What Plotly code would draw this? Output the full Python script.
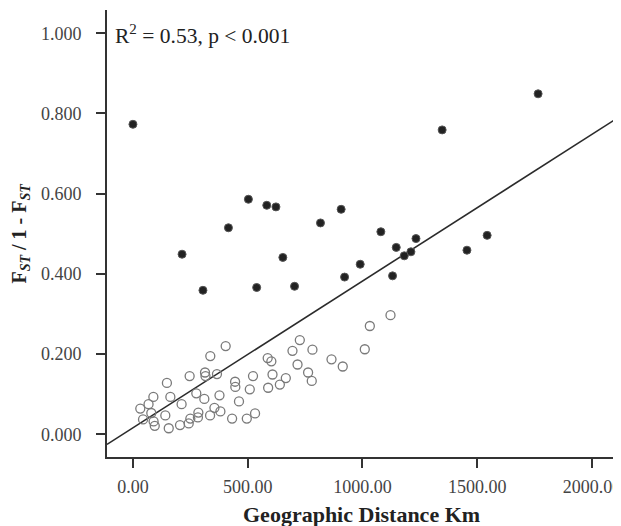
import plotly.graph_objects as go

# Filled (dark) points: geographic distance (km) vs FST/(1-FST)
filled_x = [0, 503, 583, 623, 416, 214, 653, 305, 539, 704, 817, 907, 1080, 1233,
            1147, 1182, 1211, 990, 922, 1131, 1455, 1765, 1347, 1543]
filled_y = [0.773, 0.586, 0.571, 0.567, 0.515, 0.449, 0.441, 0.359, 0.366, 0.369,
            0.527, 0.561, 0.505, 0.488, 0.466, 0.445, 0.455, 0.424, 0.392, 0.395,
            0.459, 0.849, 0.759, 0.496]

# Open (hollow) points
open_x = [32, 68, 89, 80, 44, 90, 95, 148, 163, 141, 156, 212, 205, 243, 247, 276,
          285, 250, 283, 311, 314, 316, 337, 366, 355, 336, 381, 377, 404, 432,
          445, 446, 462, 496, 509, 523, 532, 589, 587, 603, 608, 640, 666, 695,
          717, 727, 763, 779, 782, 865, 914, 1010, 1032, 1122]
open_y = [0.064, 0.075, 0.093, 0.053, 0.037, 0.032, 0.021, 0.128, 0.093, 0.047,
          0.015, 0.075, 0.023, 0.027, 0.145, 0.102, 0.054, 0.039, 0.042, 0.088,
          0.154, 0.145, 0.195, 0.150, 0.066, 0.047, 0.057, 0.097, 0.220, 0.039,
          0.131, 0.118, 0.082, 0.039, 0.112, 0.145, 0.052, 0.116, 0.190, 0.182,
          0.149, 0.124, 0.140, 0.208, 0.174, 0.235, 0.154, 0.133, 0.211, 0.187,
          0.169, 0.212, 0.270, 0.297]

# Fitted regression line coefficients
fit_intercept = 0.016
fit_slope = 0.000366

x_range = [-113, 2100]
y_range = [-0.0567, 1.058]
x_ticks = [0, 500, 1000, 1500, 2000]
x_ticklabels = ["0.00", "500.00", "1000.00", "1500.00", "2000.00"]
y_ticks = [0.0, 0.2, 0.4, 0.6, 0.8, 1.0]
y_ticklabels = ["0.000", "0.200", "0.400", "0.600", "0.800", "1.000"]

annotation_text = "R<sup>2</sup> = 0.53, p < 0.001"
x_title = "<b>Geographic Distance Km</b>"
y_title = "<b>F<sub><i>ST</i></sub> / 1 - F<sub><i>ST</i></sub></b>"

FONT = "Liberation Serif, Times New Roman, serif"
AX = "#333333"

fig = go.Figure()

line_x = list(x_range)
line_y = [fit_intercept + fit_slope * v for v in line_x]
fig.add_trace(go.Scatter(x=line_x, y=line_y, mode="lines",
                         line=dict(color="#2b2b2b", width=1.6),
                         showlegend=False, hoverinfo="skip"))

fig.add_trace(go.Scatter(x=open_x, y=open_y, mode="markers",
                         marker=dict(symbol="circle-open", size=9,
                                     color="#7a7a7a", line=dict(width=1.3, color="#7a7a7a")),
                         showlegend=False))

fig.add_trace(go.Scatter(x=filled_x, y=filled_y, mode="markers",
                         marker=dict(symbol="circle", size=8, color="#222222",
                                     line=dict(width=1, color="#555555")),
                         showlegend=False))

fig.add_annotation(x=0.0, y=1.0, xref="paper", yref="paper",
                   xanchor="left", yanchor="top", xshift=6, yshift=-9,
                   text=annotation_text, showarrow=False,
                   font=dict(family=FONT, size=21.5, color="#222222"))

# Axis titles placed as annotations for exact positioning
fig.add_annotation(x=0.5, y=0, xref="paper", yref="paper",
                   xanchor="center", yanchor="middle", xshift=0, yshift=-57,
                   text=x_title, showarrow=False,
                   font=dict(family=FONT, size=22, color="#222222"))
fig.add_annotation(x=0, y=0.5, xref="paper", yref="paper",
                   xanchor="center", yanchor="middle", xshift=-87, yshift=0,
                   textangle=-90, text=y_title, showarrow=False,
                   font=dict(family=FONT, size=20, color="#222222"))

# page body has an 8px margin, so the figure is 8px smaller than the window
fig.update_layout(
    width=613, height=518,
    margin=dict(l=99, r=6, t=2, b=69),
    paper_bgcolor="white", plot_bgcolor="white",
    font=dict(family=FONT, color=AX),
    showlegend=False,
)

fig.update_xaxes(range=x_range, tickvals=x_ticks, ticktext=x_ticklabels,
                 showgrid=False, zeroline=False, showline=True, linecolor=AX,
                 linewidth=2, ticks="outside", ticklen=9, tickwidth=2,
                 tickcolor=AX, tickfont=dict(family=FONT, size=18, color="#444444"),
                 ticklabelstandoff=3, automargin=False, ticklabeloverflow="allow")
fig.update_yaxes(range=y_range, tickvals=y_ticks, ticktext=y_ticklabels,
                 showgrid=False, zeroline=False, showline=True, linecolor=AX,
                 linewidth=2, ticks="outside", ticklen=9, tickwidth=2,
                 tickcolor=AX, tickfont=dict(family=FONT, size=18, color="#444444"),
                 ticklabelstandoff=11, automargin=False, ticklabeloverflow="allow")

fig.write_html("out.html")
